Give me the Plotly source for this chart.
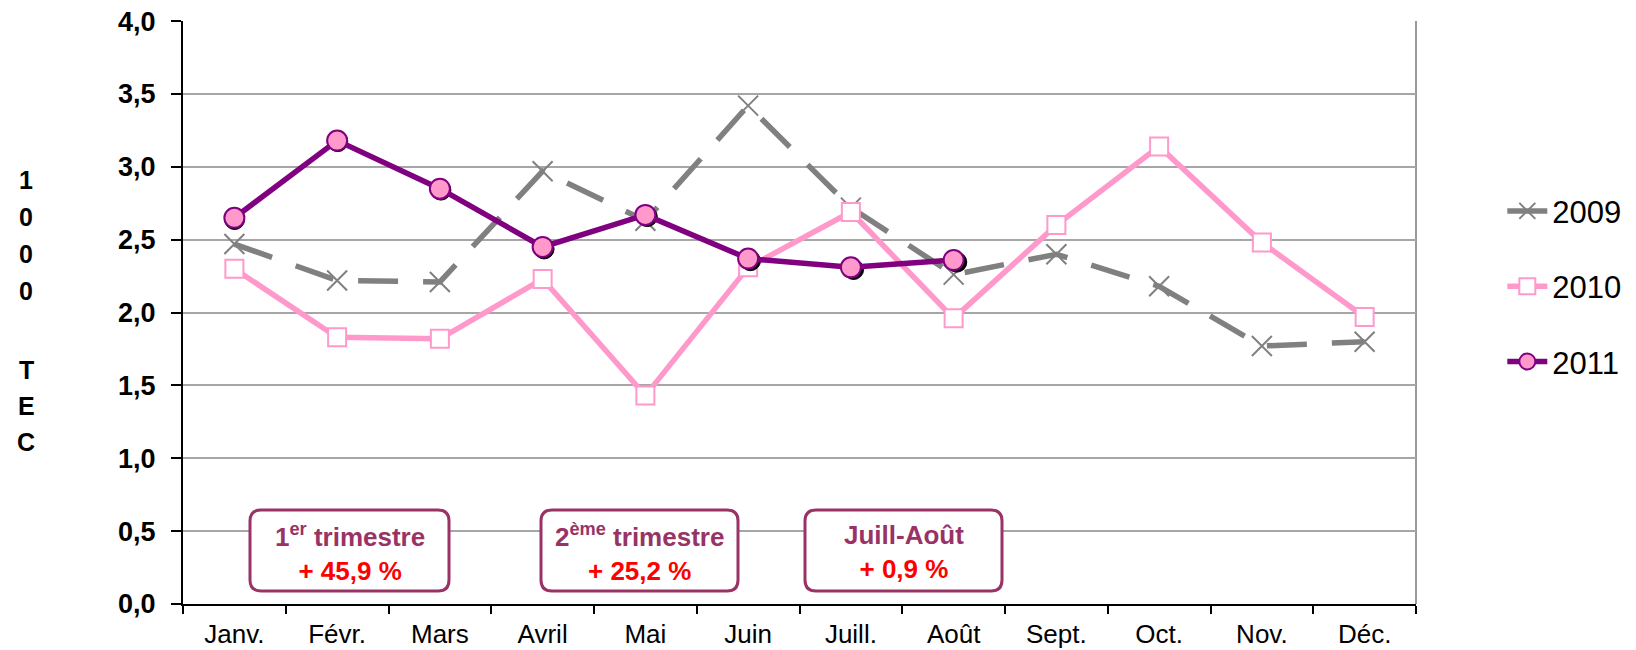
import plotly.graph_objects as go

months = ["Janv.", "Févr.", "Mars", "Avril", "Mai", "Juin", "Juill.", "Août",
          "Sept.", "Oct.", "Nov.", "Déc."]
v2009 = [2.47, 2.22, 2.21, 2.97, 2.63, 3.42, 2.72, 2.26, 2.40, 2.18, 1.77, 1.80]
v2010 = [2.30, 1.83, 1.82, 2.23, 1.43, 2.31, 2.69, 1.96, 2.60, 3.14, 2.48, 1.97]
v2011 = [2.65, 3.18, 2.85, 2.45, 2.67, 2.37, 2.31, 2.36]
months2011 = months[:len(v2011)]

box_titles = ["1<sup>er</sup> trimestre", "2<sup>ème</sup> trimestre", "Juill-Août"]
box_values = ["+ 45,9 %", "+ 25,2 %", "+ 0,9 %"]
y_title_chars = ["1", "0", "0", "0", "T", "E", "C"]

W, H = 1636, 650
ML, MT = 183, 21
PW, PH = 1233, 583
MR = W - ML - PW
MB = H - MT - PH
YMAX = 4.0
NCAT = len(months)
SH = 5  # shadow offset in px

FONT = "Arial, Liberation Sans, Helvetica, sans-serif"
GRAY = "#808080"
PINK = "#FF99CC"
PURPLE = "#800080"
PLUM = "#993366"

fig = go.Figure()

fig.add_trace(go.Scatter(
    x=months, y=v2009, name="2009", mode="lines+markers",
    line=dict(color=GRAY, width=5.5, dash="40px,25px"),
    marker=dict(symbol="x-thin-open", size=20, color=GRAY, line=dict(color=GRAY, width=2)),
    legendgroup="a", xaxis="x", yaxis="y"))

fig.add_trace(go.Scatter(
    x=months, y=v2010, name="2010", mode="lines+markers",
    line=dict(color=PINK, width=5.5),
    marker=dict(symbol="square", size=18, color="white", line=dict(color=PINK, width=2)),
    legendgroup="b", xaxis="x", yaxis="y"))

# shadow of the 2011 markers (same data, axes shifted by a few pixels)
fig.add_trace(go.Scatter(
    x=months2011, y=v2011, mode="markers", showlegend=False, hoverinfo="skip",
    marker=dict(symbol="circle", size=20, color="black", line=dict(color="black", width=1)),
    xaxis="x2", yaxis="y2"))

fig.add_trace(go.Scatter(
    x=months2011, y=v2011, name="2011", mode="lines+markers",
    line=dict(color=PURPLE, width=5.5),
    marker=dict(symbol="circle", size=20, color=PINK, line=dict(color=PURPLE, width=2)),
    legendgroup="c", xaxis="x3", yaxis="y3"))

shapes = []
annotations = []


# helpers: window pixel -> paper coordinates
def px(xv):
    return (xv - ML) / PW


def py(yv):
    return (MT + PH - yv) / PH


# boxes (window pixel extents)
box_x = [(250, 449), (541, 738), (805, 1002)]
box_y = (510, 591)
r = 11
for (x0p, x1p), t, v in zip(box_x, box_titles, box_values):
    y0p, y1p = box_y
    path = (f"M {px(x0p + r)},{py(y0p)} L {px(x1p - r)},{py(y0p)} "
            f"Q {px(x1p)},{py(y0p)} {px(x1p)},{py(y0p + r)} "
            f"L {px(x1p)},{py(y1p - r)} Q {px(x1p)},{py(y1p)} {px(x1p - r)},{py(y1p)} "
            f"L {px(x0p + r)},{py(y1p)} Q {px(x0p)},{py(y1p)} {px(x0p)},{py(y1p - r)} "
            f"L {px(x0p)},{py(y0p + r)} Q {px(x0p)},{py(y0p)} {px(x0p + r)},{py(y0p)} Z")
    shapes.append(dict(type="path", path=path, xref="paper", yref="paper",
                       line=dict(color=PLUM, width=3), fillcolor="white", layer="above"))
    annotations.append(dict(
        xref="paper", yref="paper", x=px((x0p + x1p) / 2), y=py(552),
        xanchor="center", yanchor="middle", showarrow=False, align="center",
        text=(f"<span style='color:{PLUM}'>{t}</span><br>"
              f"<span style='color:#FF0000'>{v}</span>"),
        font=dict(family=FONT, size=26, color=PLUM, weight="bold")))

# vertical axis title, one character per line
title_y = [180, 217, 254, 291, 370, 406, 442]
for ch, yy in zip(y_title_chars, title_y):
    annotations.append(dict(
        xref="paper", yref="paper", x=px(26), y=py(yy),
        xanchor="center", yanchor="middle", showarrow=False, text=ch,
        font=dict(family=FONT, size=25, color="black", weight="bold")))

# right border of plot area
shapes.append(dict(type="line", xref="paper", yref="paper", x0=1, x1=1, y0=0, y1=1,
                   line=dict(color="#999999", width=2), layer="below"))

dx = SH / PW
dy = SH / PH
catw = PW / NCAT
unit = PH / YMAX

fig.update_layout(
    width=W, height=H,
    margin=dict(l=ML, r=MR, t=MT, b=MB, autoexpand=False),
    paper_bgcolor="white", plot_bgcolor="white",
    separators=", ",
    font=dict(family=FONT, color="black"),
    shapes=shapes, annotations=annotations,
    showlegend=True,
    legend=dict(x=1.07, y=0.72, xanchor="left", yanchor="top",
                font=dict(family=FONT, size=31, color="black"),
                tracegroupgap=32, bgcolor="rgba(0,0,0,0)", itemwidth=40),
    xaxis=dict(type="category", categoryorder="array", categoryarray=months,
               range=[-0.5, NCAT - 0.5], domain=[0, 1], automargin=False,
               showline=True, linecolor="black", linewidth=2,
               ticks="outside", tickson="boundaries", ticklen=8, tickwidth=2, tickcolor="black",
               ticklabelstandoff=6,
               showgrid=False, tickfont=dict(family=FONT, size=26, color="black"),
               fixedrange=True),
    yaxis=dict(range=[0, YMAX + 0.0005], tickvals=[i * 0.5 for i in range(9)],
               tickformat=".1f", domain=[0, 1], automargin=False,
               showline=True, linecolor="black", linewidth=2,
               ticks="outside", ticklen=10, tickwidth=2, tickcolor="black",
               ticklabelstandoff=10,
               showgrid=True, gridcolor="#A6A6A6", gridwidth=1.5, zeroline=False,
               tickfont=dict(family=FONT, size=27, color="black", weight="bold"),
               fixedrange=True),
    xaxis2=dict(type="category", categoryorder="array", categoryarray=months,
                overlaying="x", domain=[dx, 1], range=[-0.5, NCAT - 0.5 - SH / catw],
                visible=False, fixedrange=True, automargin=False),
    yaxis2=dict(overlaying="y", domain=[0, 1 - dy], range=[SH / unit, YMAX + 0.0005],
                visible=False, fixedrange=True, automargin=False),
    xaxis3=dict(type="category", categoryorder="array", categoryarray=months,
                overlaying="x", domain=[0, 1], range=[-0.5, NCAT - 0.5],
                visible=False, fixedrange=True, automargin=False),
    yaxis3=dict(overlaying="y", domain=[0, 1], range=[0, YMAX + 0.0005],
                visible=False, fixedrange=True, automargin=False),
)

# remove the default 8px page margin so the figure fills the window exactly
fig.write_html("out.html", config={"displayModeBar": False},
               post_script="document.body.style.margin='0px';")
